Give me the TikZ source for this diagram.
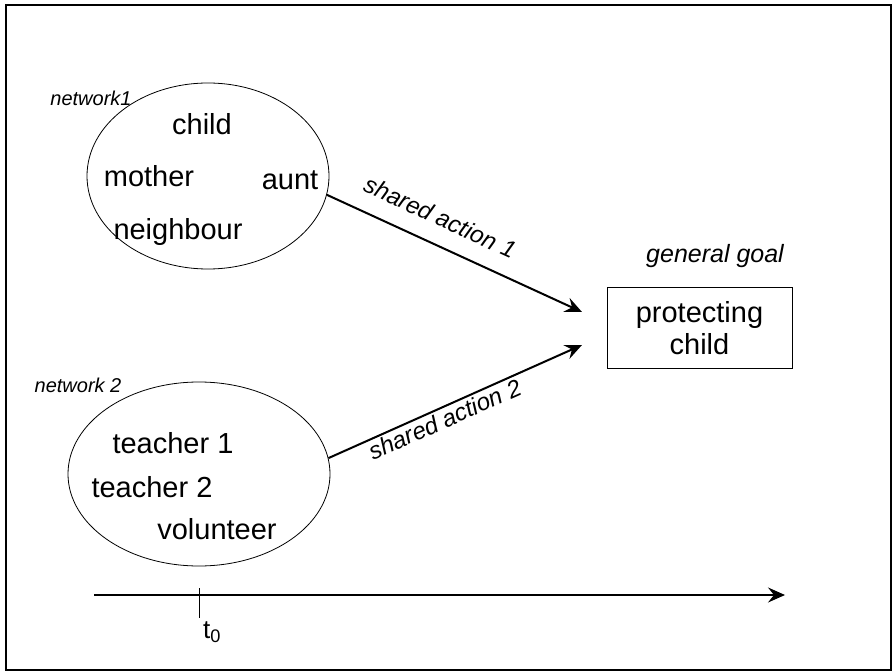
\documentclass[tikz,border=0pt]{standalone}
\usepackage{fontspec}
\setmainfont{Liberation Sans}
\usetikzlibrary{arrows.meta,shapes.geometric}

\begin{document}
\begin{tikzpicture}[x=1pt, y=-1pt,
    net/.style={draw, ellipse, line width=0.8pt, inner sep=0pt},
    member/.style={font=\fontsize{29}{34}\selectfont},
    tag/.style={font=\fontsize{20}{24}\selectfont\itshape},
    goalbox/.style={draw, line width=1pt, minimum width=185, minimum height=80,
                    align=center, font=\fontsize{29}{32}\selectfont},
    arr/.style={-{Stealth[length=17pt, width=15pt, inset=6pt]}, line width=2pt},
    act/.style={font=\fontsize{24}{28}\selectfont\itshape, sloped},
  ]
    \useasboundingbox (0,0) rectangle (892,671);
    \draw[line width=2pt] (6,5) rectangle (891,670);

    \node[net, minimum width=242, minimum height=186] (net1) at (208,176) {};
    \node[net, minimum width=262, minimum height=184] (net2) at (199,474) {};
    \node[goalbox] (goal) at (699.5,328) {protecting\\child};

    \node[tag] (lab1) at (91,98)  {network1};
    \node[tag] (lab2) at (78,385) {network 2};
    \node[tag, font=\fontsize{25}{30}\selectfont\itshape] (glab) at (715,256) {general goal};

    \node[member] (child)  at (202,124) {child};
    \node[member] (mother) at (149,176) {mother};
    \node[member] (aunt)   at (290,180) {aunt};
    \node[member] (neigh)  at (178,232) {neighbour};
    \node[member] (teach1) at (173,443) {teacher 1};
    \node[member] (teach2) at (152,487) {teacher 2};
    \node[member] (volun)  at (217,529) {volunteer};

    \coordinate (in1) at (582,312);
    \coordinate (in2) at (582,345);
    \draw[arr] (net1.-9) -- (in1) node[act, above=14pt, pos=0.4] {shared action 1};
    \draw[arr] (net2.7)  -- (in2) node[act, below=-1pt, pos=0.44] {shared action 2};

    % time line
    \coordinate (tbeg) at (94,595);
    \coordinate (tend) at (785,595);
    \coordinate (tick) at (199,588);
    \draw[arr, line width=1.5pt] (tbeg) -- (tend);
    \draw[line width=0.9pt] (tick) -- ++(0,30);
    \node[font=\fontsize{26}{30}\selectfont] (t0) at (212,632) {t\textsubscript{0}};
\end{tikzpicture}
\end{document}
